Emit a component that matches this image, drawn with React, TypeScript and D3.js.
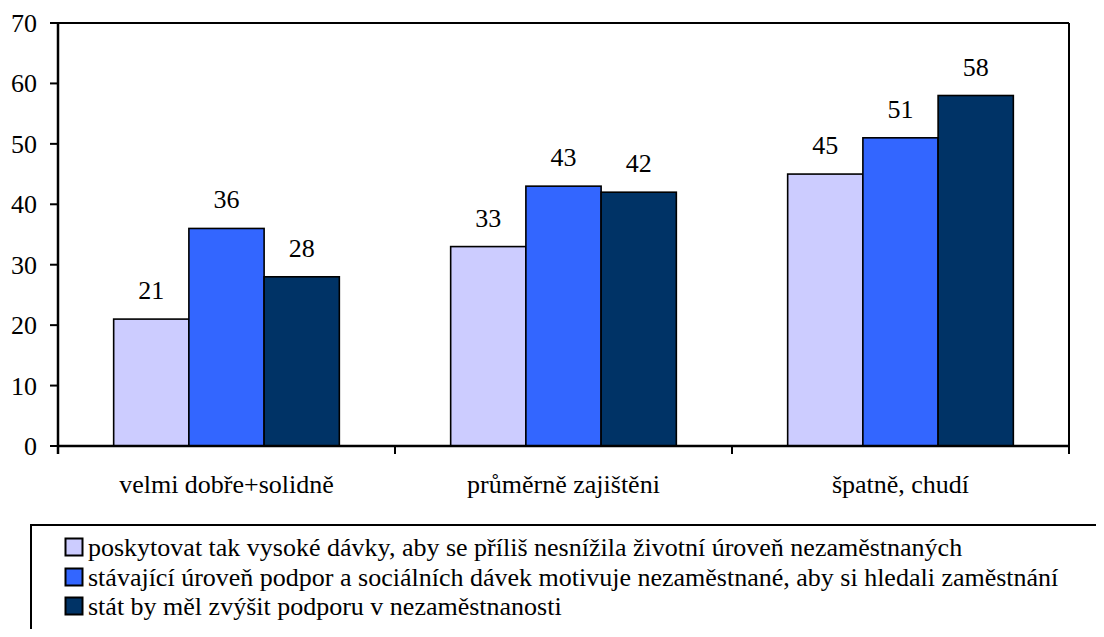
import React, { useEffect, useRef } from "react";
import * as d3 from "d3";

const categories = ["velmi dobře+solidně", "průměrně zajištěni", "špatně, chudí"];
const seriesNames = [
  "poskytovat tak vysoké dávky, aby se příliš nesnížila životní úroveň nezaměstnaných",
  "stávající úroveň podpor a sociálních dávek motivuje nezaměstnané, aby si hledali zaměstnání",
  "stát by měl zvýšit podporu v nezaměstnanosti",
];
const series1 = [21, 33, 45];
const series2 = [36, 43, 51];
const series3 = [28, 42, 58];
const yTicks = [0, 10, 20, 30, 40, 50, 60, 70];
const colors = ["#CCCCFF", "#3366FF", "#003366"];

export default function App() {
  const ref = useRef<SVGSVGElement | null>(null);

  useEffect(() => {
    const W = 1104, H = 637;
    const left = 58, right = 1069, top = 23, bottom = 446;
    const fs = 26;
    const fam = "Liberation Serif";
    const allSeries = [series1, series2, series3];
    const svg = d3.select(ref.current);
    svg.selectAll("*").remove();

    const y = d3.scaleLinear().domain([0, 70]).range([bottom, top]);
    const x0 = d3.scaleBand<string>().domain(categories).range([left, right]).paddingInner(0).paddingOuter(0);
    const x1 = d3.scaleBand<string>().domain(["0", "1", "2"]).range([0, x0.bandwidth()]).paddingInner(0).paddingOuter(0.74);

    svg.append("rect").attr("width", W).attr("height", H).attr("fill", "#fff");
    svg.append("line").attr("x1", left).attr("x2", right).attr("y1", top).attr("y2", top).attr("stroke", "#000").attr("stroke-width", 2);
    svg.append("line").attr("x1", right).attr("x2", right).attr("y1", top).attr("y2", bottom + 8).attr("stroke", "#000").attr("stroke-width", 2);

    const txt = (x: number, yy: number, s: string, anchor: string) =>
      svg.append("text").attr("x", x).attr("y", yy).attr("text-anchor", anchor)
        .attr("font-size", fs).attr("fill", "#000")
        .attr("font-family", fam).style("font-family", fam).text(s);

    categories.forEach((c, ci) => {
      allSeries.forEach((s, si) => {
        const bx = (x0(c) as number) + (x1(String(si)) as number);
        const bw = x1.bandwidth();
        const v = s[ci];
        svg.append("rect").attr("x", bx).attr("y", y(v)).attr("width", bw).attr("height", bottom - y(v))
          .attr("fill", colors[si]).attr("stroke", "#000").attr("stroke-width", 1.6);
        txt(bx + bw / 2, y(v) - 20, String(v), "middle");
      });
    });

    svg.append("line").attr("x1", left).attr("x2", left).attr("y1", top).attr("y2", bottom + 8).attr("stroke", "#000").attr("stroke-width", 2.5);
    yTicks.forEach((t) => {
      svg.append("line").attr("x1", left - 8).attr("x2", left).attr("y1", y(t)).attr("y2", y(t)).attr("stroke", "#000").attr("stroke-width", 2);
      txt(37, y(t) + 9, String(t), "end");
    });
    svg.append("line").attr("x1", left).attr("x2", right).attr("y1", bottom).attr("y2", bottom).attr("stroke", "#000").attr("stroke-width", 2.5);
    categories.forEach((c, i) => {
      if (i > 0) {
        svg.append("line").attr("x1", x0(c) as number).attr("x2", x0(c) as number).attr("y1", bottom).attr("y2", bottom + 8)
          .attr("stroke", "#000").attr("stroke-width", 2);
      }
      txt((x0(c) as number) + x0.bandwidth() / 2, 493, c, "middle");
    });

    const legendTop = 525;
    const legendRowY = [547, 577, 606];
    svg.append("rect").attr("x", 31).attr("y", legendTop).attr("width", W).attr("height", H)
      .attr("fill", "none").attr("stroke", "#000").attr("stroke-width", 2);
    seriesNames.forEach((n, i) => {
      svg.append("rect").attr("x", 65.5).attr("y", legendRowY[i] - 8.5).attr("width", 17).attr("height", 17)
        .attr("fill", colors[i]).attr("stroke", "#000").attr("stroke-width", 2);
      txt(88, legendRowY[i] + 8.5, n, "start");
    });
  }, []);

  return <svg ref={ref} width={1104} height={637} style={{ display: "block", margin: -8, fontFamily: "Liberation Serif" }} />;
}
